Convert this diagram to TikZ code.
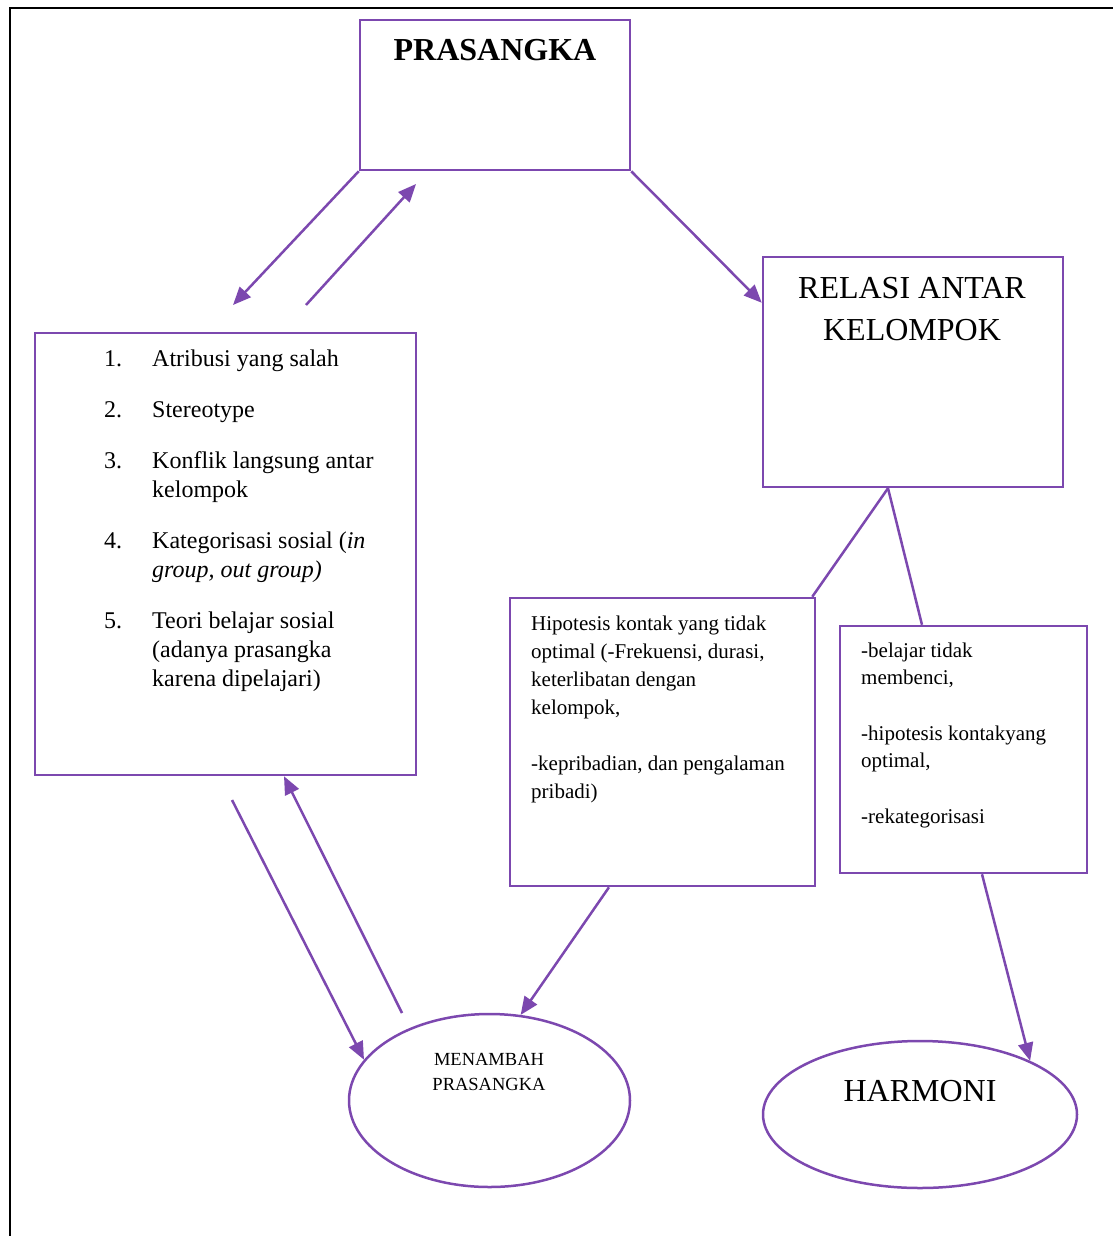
\documentclass[tikz,border=0pt]{standalone}
\usepackage{fontspec}
\setmainfont{Liberation Serif}
\usetikzlibrary{arrows.meta,shapes.geometric,calc}
\definecolor{ungu}{RGB}{124,72,175}

\begin{document}
\begin{tikzpicture}[x=1pt,y=-1pt]
\tikzstyle{every node}+=[inner sep=0pt]
\tikzstyle{purplebox}=[draw=ungu,line width=2.5pt,rectangle]
\tikzstyle{purpleoval}=[draw=ungu,line width=2.5pt,ellipse]
\tikzstyle{link}=[ungu,line width=2.5pt]
\tikzstyle{linkarrow}=[link,-{Triangle[length=18pt,width=15pt]}]
\useasboundingbox (0,0) rectangle (1113,1236);
\draw [black,line width=2pt] (10,1236) -- (10,8.5) -- (1113,8.5);
\node [purplebox,minimum width=270pt,minimum height=150pt] (prasangka) at (495,95) {};
\node [anchor=base,font=\fontsize{32}{38}\selectfont\bfseries] (prasangka-text) at (495,61) {PRASANGKA};
\node [purplebox,minimum width=300pt,minimum height=230pt] (relasi) at (913,372) {};
\node [anchor=base,font=\fontsize{32}{42}\selectfont] (relasi-text) at (912,298) {%
\begin{tabular}[t]{@{}c@{}}RELASI ANTAR\\KELOMPOK\end{tabular}};
\node [purplebox,minimum width=381pt,minimum height=442pt] (causes) at (225.5,554) {};
\node [anchor=base west,font=\fontsize{24}{29}\selectfont] (causes-text) at (104,366) {%
\begin{tabular}[t]{@{}p{48pt}@{}l@{}}
1. & Atribusi yang salah\\[22pt]
2. & Stereotype\\[22pt]
3. & Konflik langsung antar\\
 & kelompok\\[22pt]
4. & Kategorisasi sosial (\textit{in}\\
 & \textit{group, out group)}\\[22pt]
5. & Teori belajar sosial\\
 & (adanya prasangka\\
 & karena dipelajari)
\end{tabular}};
\node [purplebox,minimum width=305pt,minimum height=288pt] (hipotesis) at (662.5,742) {};
\node [anchor=base west,font=\fontsize{21}{28}\selectfont] (hipotesis-text) at (531,630) {%
\begin{tabular}[t]{@{}l@{}}Hipotesis kontak yang tidak\\optimal (-Frekuensi, durasi,\\keterlibatan dengan\\kelompok,\\[28pt]-kepribadian, dan pengalaman\\pribadi)\end{tabular}};
\node [purplebox,minimum width=247pt,minimum height=247pt] (belajar) at (963.5,749.5) {};
\node [anchor=base west,font=\fontsize{21}{27.5}\selectfont] (belajar-text) at (861,657) {%
\begin{tabular}[t]{@{}l@{}}-belajar tidak\\membenci,\\[28pt]-hipotesis kontakyang\\optimal,\\[28pt]-rekategorisasi\end{tabular}};
\node [purpleoval,minimum width=281pt,minimum height=173pt] (menambah) at (489.5,1100.5) {};
\node [anchor=base,font=\fontsize{18.5}{25}\selectfont] (menambah-text) at (489,1065) {%
\begin{tabular}[t]{@{}c@{}}MENAMBAH\\PRASANGKA\end{tabular}};
\node [purpleoval,minimum width=314pt,minimum height=147pt] (harmoni) at (920,1114.5) {};
\node [anchor=base,font=\fontsize{32}{38}\selectfont] (harmoni-text) at (920,1101) {HARMONI};
\coordinate (down-tip) at (233,305);
\coordinate (up-start) at (306,305);
\coordinate (up-tip) at (416,184);
\coordinate (relasi-in) at ($(relasi.north west)+(0,47)$);
\coordinate (fork) at ($(relasi.south)+(-25,0)$);
\coordinate (back-start) at (232,800);
\coordinate (return-start) at (402,1013);
\draw [linkarrow] (prasangka.south west) -- (down-tip);
\draw [linkarrow] (up-start) -- (up-tip);
\draw [linkarrow] (prasangka.south east) -- (relasi-in);
\draw [link] (fork) -- ($(hipotesis.north east)+(-4,0)$);
\draw [link] (fork) -- ($(belajar.north)+(-41.5,0)$);
\draw [linkarrow] ($(hipotesis.south)+(-53.5,0)$) -- (menambah.70);
\draw [linkarrow] ($(belajar.south)+(18.5,0)$) -- (harmoni.26);
\draw [linkarrow] (back-start) -- (menambah.162);
\draw [linkarrow] (return-start) -- ($(causes.south)+(58.5,0)$);
\end{tikzpicture}
\end{document}
